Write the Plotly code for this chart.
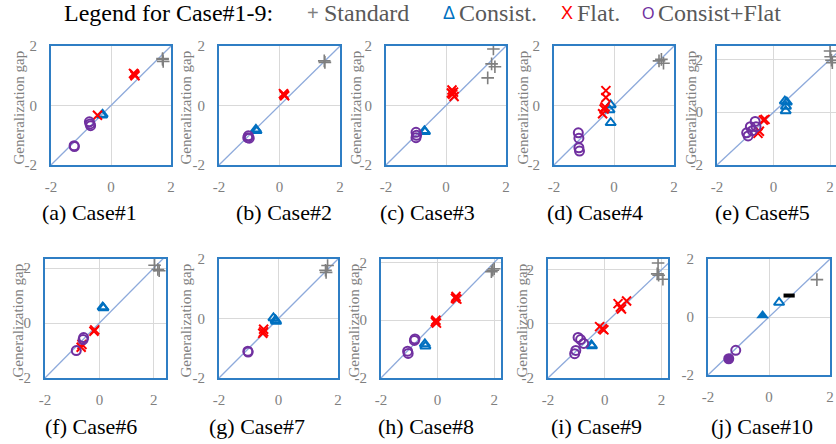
import plotly.graph_objects as go

# ---------------- data ----------------
CAPTIONS = ["(a) Case#1", "(b) Case#2", "(c) Case#3", "(d) Case#4", "(e) Case#5",
            "(f) Case#6", "(g) Case#7", "(h) Case#8", "(i) Case#9", "(j) Case#10"]
TICK_VALUES = [-2, 0, 2]
TICK_LABELS = ["-2", "0", "2"]
Y_TITLE = "Generalization gap"
LEGEND_TITLE = "Legend for Case#1-9:"
SERIES_NAMES = ["Standard", "Consist.", "Flat.", "Consist+Flat"]

STANDARD_X = [[1.72, 1.74, 1.72], [1.5, 1.48], [1.58, 1.52, 1.63, 1.39], [1.5, 1.58, 1.65],
              [2.0, 2.02, 2.08, 2.05], [2.03, 2.2, 2.15], [1.65, 1.6, 1.58], [1.9, 2.0, 1.95],
              [1.88, 1.85, 2.05, 1.9], [1.57]]
STANDARD_Y = [[1.58, 1.48, 1.55], [1.45, 1.5], [1.9, 1.4, 1.3, 0.93], [1.5, 1.55, 1.42],
              [2.32, 2.1, 1.88, 1.97], [2.1, 1.9, 1.95], [1.78, 1.55, 1.62], [1.68, 1.78, 1.73],
              [2.25, 1.85, 1.65, 1.8], [1.29]]

CONSIST_X = [[-0.3, -0.28], [-0.78, -0.76], [-0.72, -0.7], [-0.11, -0.15, -0.11],
             [0.4, 0.47, 0.44, 0.43], [0.15, 0.12], [-0.17, -0.1, -0.08], [-0.45, -0.43],
             [-0.47, -0.45], [0.33]]
CONSIST_Y = [[-0.33, -0.3], [-0.8, -0.85], [-0.85, -0.88], [0.02, -0.15, -0.58],
             [0.42, 0.38, 0.22, 0.05], [0.55, 0.58], [0.02, -0.05, -0.1], [-0.82, -0.9],
             [-0.78, -0.82], [0.5]]

FLAT_X = [[0.75, 0.8, 0.78, -0.45], [0.13, 0.17, 0.15], [0.2, 0.25, 0.22, 0.27, 0.18],
          [-0.27, -0.27, -0.33, -0.38, -0.3], [-0.36, -0.3, -0.55, -0.5],
          [-0.17, -0.2, -0.64, -0.67], [-0.5, -0.53, -0.5],
          [0.65, 0.68, 0.63, -0.06, -0.04, -0.08],
          [0.47, 0.59, 0.55, 0.77, -0.18, -0.08, -0.03], []]
FLAT_Y = [[1.08, 1.0, 1.05, -0.33], [0.4, 0.33, 0.36], [0.52, 0.45, 0.38, 0.3, 0.42],
          [0.5, 0.27, -0.12, -0.28, -0.05], [-0.3, -0.27, -0.8, -0.72],
          [-0.25, -0.3, -0.78, -0.88], [-0.36, -0.5, -0.45],
          [0.82, 0.73, 0.76, 0.0, -0.1, -0.05],
          [0.75, 0.55, 0.62, 0.85, -0.1, -0.18, -0.22], []]

CF_X = [[-0.72, -0.68, -0.7, -1.23, -1.22], [-1.03, -1.0, -1.05], [-1.0, -0.98, -1.0],
        [-1.19, -1.17, -1.17, -1.15], [-0.65, -0.82, -0.95, -0.9, -0.62, -0.75],
        [-0.58, -0.6, -0.85], [-1.03, -1.02], [-0.8, -0.82, -1.06, -1.04],
        [-0.94, -0.85, -0.74, -1.02, -1.06], [-1.09]]
CF_Y = [[-0.55, -0.68, -0.62, -1.35, -1.38], [-1.02, -1.1, -1.08], [-0.9, -1.0, -1.08],
        [-0.92, -1.1, -1.42, -1.53], [-0.35, -0.55, -0.78, -0.9, -0.55, -0.7],
        [-0.53, -0.6, -1.0], [-1.1, -1.13], [-0.65, -0.7, -1.07, -1.15],
        [-0.5, -0.58, -0.72, -0.98, -1.1], [-1.15]]

# Case#10 extra marks
CASE10_CONSIST_FILLED_X = [-0.21]
CASE10_CONSIST_FILLED_Y = [0.05]
CASE10_CF_FILLED_X = [-1.32]
CASE10_CF_FILLED_Y = [-1.44]
CASE10_BLACK_X = [0.66]
CASE10_BLACK_Y = [0.74]

DIAG = [-2, 3]

# ---------------- layout geometry (pixels) ----------------
W, H = 836, 444
# left, right, top, bottom, xmax, ymax
BOXES = [
    (51, 171, 46, 165, 2.0, 2.0),
    (219, 340, 46, 165, 2.0, 2.0),
    (386, 506, 46, 165, 2.0, 2.0),
    (554, 674, 46, 165, 2.0, 2.0),
    (717, 836, 46, 165, 2.21, 2.51),
    (45, 166, 259, 378, 2.45, 2.33),
    (219, 338, 259, 378, 2.0, 2.0),
    (381, 501, 259, 378, 2.24, 2.12),
    (548, 668, 259, 378, 2.23, 2.4),
    (708, 830, 259, 375, 2.0, 2.0),
]
CAPTION_POS = [(89, 212), (284, 212), (427, 212), (595, 212), (762, 212),
               (91, 426), (257, 426), (426, 426), (596, 426), (762, 426)]
YTITLE_X = [18, 185, 355, 522, 690, 17, 185, 353, 521]

SERIF = "Liberation Serif, Times New Roman, Times, DejaVu Serif, serif"
SANS = "Liberation Sans, Arial, DejaVu Sans, sans-serif"
GRAY = "#7f7f7f"
BORDER = "#2f7ec4"
C_STD = "#7f7f7f"
C_CON = "#0070c0"
C_FLAT = "#ff0000"
C_CF = "#7030a0"

fig = go.Figure()

def ax_names(i):
    return ("x" if i == 0 else f"x{i+1}", "y" if i == 0 else f"y{i+1}")

for i in range(10):
    xa, ya = ax_names(i)
    fig.add_trace(go.Scatter(x=DIAG, y=DIAG, mode="lines", xaxis=xa, yaxis=ya,
                             line=dict(color="#8eaadb", width=1.3), hoverinfo="skip"))
    fig.add_trace(go.Scatter(x=STANDARD_X[i], y=STANDARD_Y[i], mode="markers", xaxis=xa, yaxis=ya,
                             marker=dict(symbol="cross-thin", size=9, color=C_STD,
                                         line=dict(color=C_STD, width=1.6))))
    fig.add_trace(go.Scatter(x=CONSIST_X[i], y=CONSIST_Y[i], mode="markers", xaxis=xa, yaxis=ya,
                             marker=dict(symbol="triangle-up-open", size=9, color=C_CON,
                                         line=dict(color=C_CON, width=2))))
    fig.add_trace(go.Scatter(x=FLAT_X[i], y=FLAT_Y[i], mode="markers", xaxis=xa, yaxis=ya,
                             marker=dict(symbol="x-thin", size=9, color=C_FLAT,
                                         line=dict(color=C_FLAT, width=2))))
    fig.add_trace(go.Scatter(x=CF_X[i], y=CF_Y[i], mode="markers", xaxis=xa, yaxis=ya,
                             marker=dict(symbol="circle-open", size=9, color=C_CF,
                                         line=dict(color=C_CF, width=2))))

# Case#10 extras
fig.add_trace(go.Scatter(x=CASE10_CONSIST_FILLED_X, y=CASE10_CONSIST_FILLED_Y, mode="markers",
                         xaxis="x10", yaxis="y10",
                         marker=dict(symbol="triangle-up", size=11, color=C_CON)))
fig.add_trace(go.Scatter(x=CASE10_CF_FILLED_X, y=CASE10_CF_FILLED_Y, mode="markers",
                         xaxis="x10", yaxis="y10",
                         marker=dict(symbol="circle", size=11, color=C_CF)))
fig.add_trace(go.Scatter(x=CASE10_BLACK_X, y=CASE10_BLACK_Y, mode="markers",
                         xaxis="x10", yaxis="y10",
                         marker=dict(symbol="line-ew-open", size=8, color="black",
                                     line=dict(color="black", width=4))))

layout = dict(width=W, height=H, autosize=False, showlegend=False,
              margin=dict(l=0, r=0, t=0, b=0, pad=0),
              paper_bgcolor="white", plot_bgcolor="white",
              font=dict(family=SERIF, color=GRAY))

for i, (L, R, T, B, xmax, ymax) in enumerate(BOXES):
    key_x = "xaxis" if i == 0 else f"xaxis{i+1}"
    key_y = "yaxis" if i == 0 else f"yaxis{i+1}"
    xa, ya = ax_names(i)
    common = dict(tickvals=TICK_VALUES, ticktext=TICK_LABELS, showgrid=True,
                  gridcolor="#d9d9d9", gridwidth=1, zeroline=False, showline=True,
                  linecolor=BORDER, linewidth=2, ticks="outside", tickcolor="rgba(0,0,0,0)",
                  tickfont=dict(family=SERIF, size=15, color=GRAY), fixedrange=True,
                  automargin=False)
    layout[key_x] = dict(common, domain=[L / W, min(R / W, 1.0)], range=[-2, xmax],
                         anchor=ya, mirror=True, ticklen=7)
    layout[key_y] = dict(common, domain=[1 - B / H, 1 - T / H], range=[-2, ymax],
                         anchor=xa, mirror=(R <= W - 2), ticklen=9)

annotations = []
for i, (cx, cy) in enumerate(CAPTION_POS):
    annotations.append(dict(text=CAPTIONS[i], x=cx / W, y=1 - cy / H, xref="paper", yref="paper",
                            xanchor="center", yanchor="middle", showarrow=False,
                            font=dict(family=SERIF, size=22, color="black")))
for i, tx in enumerate(YTITLE_X):
    L, R, T, B, _, _ = BOXES[i]
    cy = (T + B) / 2 + 2
    annotations.append(dict(text=Y_TITLE, x=tx / W, y=1 - cy / H, xref="paper", yref="paper",
                            xanchor="center", yanchor="middle", showarrow=False, textangle=-90,
                            font=dict(family=SERIF, size=15, color=GRAY)))

# legend row
LEG_Y = 1 - 13 / H
annotations.append(dict(text=LEGEND_TITLE, x=62 / W, y=LEG_Y, xref="paper", yref="paper",
                        xanchor="left", yanchor="middle", showarrow=False,
                        font=dict(family=SERIF, size=24, color="black")))
LEG_ITEMS = [("+", C_STD, 313, 322, 20),
             ("Δ", C_CON, 449, 457, 18),
             ("X", C_FLAT, 567, 575, 18),
             ("O", C_CF, 648, 656, 16)]
for (sym, col, sx, tx0, ssize), name in zip(LEG_ITEMS, SERIES_NAMES):
    annotations.append(dict(text=sym, x=sx / W, y=LEG_Y, xref="paper", yref="paper",
                            xanchor="center", yanchor="middle", showarrow=False,
                            font=dict(family=SANS, size=ssize, color=col)))
    annotations.append(dict(text=name, x=tx0 / W, y=LEG_Y, xref="paper", yref="paper",
                            xanchor="left", yanchor="middle", showarrow=False,
                            font=dict(family=SERIF, size=24, color="#595959")))

layout["annotations"] = annotations
fig.update_layout(**layout)
fig.write_html("out.html", config={"displayModeBar": False},
               post_script="document.body.style.margin='0';document.body.style.padding='0';")
